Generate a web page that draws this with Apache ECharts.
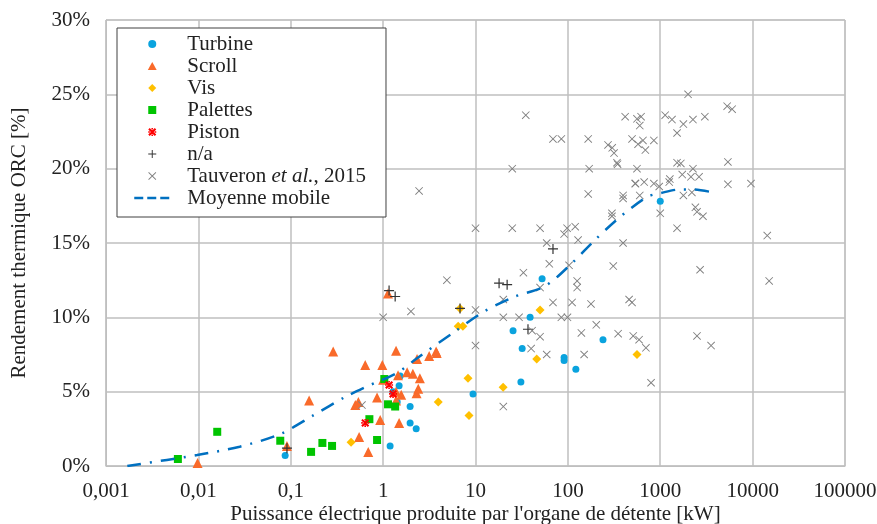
<!DOCTYPE html>
<html>
<head>
<meta charset="utf-8">
<script src="https://cdn.jsdelivr.net/npm/echarts@6/dist/echarts.min.js"></script>
<style>
  html, body { margin: 0; padding: 0; background: #fff; }
  #chart { width: 877px; height: 524px; }
</style>
</head>
<body>
<div id="chart"></div>
<script>
// [puissance kW, rendement %]
var turbine = [[0.087,0.7],[1.19,1.35],[1.28,5.0],[1.42,4.3],[1.49,5.4],[1.53,6.05],[1.96,4.0],[1.96,2.9],[2.28,2.5],
    [9.4,4.85],[25.5,9.1],[31,5.65],[32,7.9],[39,10.0],[52.6,12.6],[91,7.3],[91,7.1],[122,6.5],[240,8.5],[1000,17.8]];
var scroll = [[0.0098,0.2],[0.091,1.35],[0.158,4.4],[0.288,7.7],[0.50,4.1],[0.54,4.3],[0.55,1.95],[0.64,6.8],[0.69,0.95],
    [0.86,4.6],[0.93,3.1],[0.98,6.8],[1.0,5.8],[1.13,11.6],[1.38,7.75],[1.38,4.4],[1.38,5.0],[1.45,6.1],[1.49,2.9],
    [1.57,4.8],[1.82,6.3],[2.1,6.2],[2.3,4.9],[2.33,7.2],[2.4,5.2],[2.5,5.9],[3.15,7.4],[3.75,7.7],[3.8,7.6]];
var vis = [[0.45,1.6],[3.95,4.3],[6.5,9.4],[6.8,10.6],[7.3,9.4],[8.3,5.9],[8.5,3.4],[19.9,5.3],[46,7.2],[50,10.5],[560,7.5]];
var palettes = [[0.006,0.47],[0.016,2.3],[0.077,1.7],[0.166,0.95],[0.22,1.55],[0.28,1.35],[0.71,3.15],[0.86,1.75],
    [1.03,5.85],[1.13,4.15],[1.35,4.0]];
var piston = [[0.64,2.9],[1.16,5.45],[1.28,4.85]];
var na = [[0.091,1.2],[1.16,11.8],[1.35,11.4],[6.8,10.6],[18,12.3],[22,12.2],[37,9.2],[69,14.6]];
var tauveron = [[0.59,4.1],[1.0,10.0],[2.0,10.4],[2.45,18.5],[4.9,12.5],[10,10.5],[10,8.1],[10,16.0],[20,11.2],[20,10.0],
    [20,4.0],[25,20.0],[25,16.0],[29.6,10.0],[33,13.0],[35,23.6],[40,7.9],[41,9.1],[50,8.7],[50,16.0],[50,12.0],
    [59,7.5],[59,15.0],[63,13.6],[69,22.0],[69,11.0],[85,22.0],[85,10.0],[91,15.6],[98,16.0],[99,10.0],[103,13.5],
    [111,11.0],[120,16.1],[126,12.45],[126,12.0],[129,15.2],[140,8.95],[150,7.5],[166,22.0],[166,18.3],[170,20.0],
    [178,10.9],[203,9.5],[272,21.6],[300,17.0],[300,16.8],[302,21.4],[310,13.45],[316,21.05],[340,20.4],[345,20.3],
    [350,8.9],[396,18.2],[396,18.0],[396,15.0],[417,23.5],[460,11.2],[495,11.0],[495,22.0],[510,8.75],[535,19.0],
    [540,19.0],[560,23.35],[560,20.0],[575,21.65],[590,8.5],[600,22.9],[600,18.2],[620,23.5],[650,21.9],[670,19.1],
    [690,21.25],[700,7.95],[795,5.6],[853,21.9],[853,19.0],[975,18.8],[1000,17.0],[1130,23.6],[1250,19.1],[1270,19.3],
    [1340,23.3],[1520,22.4],[1520,20.4],[1520,16.0],[1670,20.35],[1730,19.6],[1780,23.0],[1780,18.2],[2000,25.0],
    [2150,19.45],[2200,18.4],[2260,23.3],[2260,20.0],[2400,17.4],[2500,17.1],[2500,8.75],[2630,19.45],[2700,13.2],
    [2900,16.8],[3040,23.5],[3550,8.1],[5300,24.2],[5400,20.45],[5400,18.95],[6000,24.0],[9600,19.0],[14400,15.5],
    [15100,12.45]];
var moyenne = [[0.0017,0],[0.0097,0.74],[0.028,1.3],[0.077,2.15],[0.175,3.4],[0.39,4.65],[0.64,5.3],[1.45,6.3],
    [2.33,7.25],[5.7,8.95],[12.1,10.35],[25.5,11.35],[56.7,12.1],[111,13.65],[196,15.2],[367,16.75],[720,18.1],
    [1000,18.35],[1630,18.6],[2260,18.6],[4090,18.35]];
var xTickLabels = ['0,001', '0,01', '0,1', '1', '10', '100', '1000', '10000', '100000'];

var font = 'Liberation Serif';
var trianglePath = 'path://M5,0L10,9L0,9Z';
var diamondPath = 'path://M5,0L10,5L5,10L0,5Z';
var squarePath = 'path://M0,0L10,0L10,10L0,10Z';
var plusPath = 'path://M0,4.4L10,4.4L10,5.6L0,5.6Z M4.4,0L5.6,0L5.6,10L4.4,10Z';
var crossPath = 'path://M0,0.8L0.8,0L10,9.2L9.2,10Z M9.2,0L10,0.8L0.8,10L0,9.2Z';
var pistonPath = 'path://M0,1.8L1.8,0L10,8.2L8.2,10Z M8.2,0L10,1.8L1.8,10L0,8.2Z M4,0L6,0L6,2L4,2Z M4,8L6,8L6,10L4,10Z M0,4L2,4L2,6L0,6Z M8,4L10,4L10,6L8,6Z';

var chart = echarts.init(document.getElementById('chart'));
var option = {
    animation: false,
    textStyle: { fontFamily: font },
    grid: {
        left: 106, right: 32, top: 20, bottom: 58,
        outerBoundsMode: 'none',
        show: true, borderColor: '#BFBFBF', borderWidth: 1
    },
    legend: {
        orient: 'vertical',
        left: 117,
        top: 28,
        padding: [5, 20, 8, 16],
        itemWidth: 36,
        itemHeight: 8,
        itemGap: 0,
        symbolKeepAspect: true,
        backgroundColor: '#fff',
        borderColor: '#404040',
        borderWidth: 1,
        borderRadius: 0,
        textStyle: {
            fontFamily: font, fontSize: 21, color: '#222', lineHeight: 22, padding: [0, 0, 0, 12],
            rich: { i: { fontFamily: font, fontSize: 21, fontStyle: 'italic', color: '#222' } }
        },
        formatter: function (name) {
            if (name === 'Tauveron et al., 2015') return 'Tauveron {i|et al.}, 2015';
            return name;
        },
        data: ['Turbine', 'Scroll', 'Vis', 'Palettes', 'Piston', 'n/a', 'Tauveron et al., 2015',
            { name: 'Moyenne mobile', itemStyle: { opacity: 0 }, lineStyle: { type: [9, 4], width: 2.5 } }]
    },
    xAxis: {
        type: 'log',
        logBase: 10,
        min: 0.001,
        max: 100000,
        name: "Puissance électrique produite par l'organe de détente [kW]",
        nameLocation: 'middle',
        nameGap: 38,
        nameMoveOverlap: false,
        nameTextStyle: { fontFamily: font, fontSize: 21, color: '#222' },
        axisLine: { lineStyle: { color: '#BFBFBF' } },
        axisTick: { show: false },
        axisLabel: {
            fontFamily: font, fontSize: 21, color: '#222', margin: 15,
            formatter: function (v, i) { return xTickLabels[i]; }
        },
        splitLine: { show: true, lineStyle: { color: '#BFBFBF', width: 1.5 } }
    },
    yAxis: {
        type: 'value',
        min: 0,
        max: 30,
        interval: 5,
        name: 'Rendement thermique ORC [%]',
        nameLocation: 'middle',
        nameGap: 76,
        nameMoveOverlap: false,
        nameTextStyle: { fontFamily: font, fontSize: 21, color: '#222' },
        axisLine: { show: true, lineStyle: { color: '#BFBFBF' } },
        axisTick: { show: false },
        axisLabel: { fontFamily: font, fontSize: 21, color: '#222', margin: 16, formatter: '{value}%' },
        splitLine: { show: true, lineStyle: { color: '#BFBFBF', width: 1.5 } }
    },
    series: [
        { name: 'Turbine', type: 'scatter', data: turbine, symbol: 'circle', symbolSize: 7,
          itemStyle: { color: '#0AA3DE', opacity: 1 } },
        { name: 'Scroll', type: 'scatter', data: scroll, symbol: trianglePath, symbolSize: 10,
          itemStyle: { color: '#F96A2A', opacity: 1 } },
        { name: 'Vis', type: 'scatter', data: vis, symbol: diamondPath, symbolSize: 9,
          itemStyle: { color: '#FFC000', opacity: 1 } },
        { name: 'Palettes', type: 'scatter', data: palettes, symbol: squarePath, symbolSize: 8,
          itemStyle: { color: '#00C400', opacity: 1 } },
        { name: 'Piston', type: 'scatter', data: piston, symbol: pistonPath, symbolSize: 8,
          itemStyle: { color: '#FF0000', opacity: 1 } },
        { name: 'n/a', type: 'scatter', data: na, symbol: plusPath, symbolSize: 10,
          itemStyle: { color: '#333', opacity: 1 } },
        { name: 'Tauveron et al., 2015', type: 'scatter', data: tauveron, symbol: crossPath, symbolSize: 8,
          itemStyle: { color: '#7F7F7F', opacity: 1 } },
        { name: 'Moyenne mobile', type: 'line', data: moyenne, symbol: 'none', smooth: 0.3,
          lineStyle: { color: '#0070C0', width: 2.5, type: [14, 9, 2, 9] },
          itemStyle: { color: '#0070C0' } }
    ]
};
chart.setOption(option);
</script>
</body>
</html>
